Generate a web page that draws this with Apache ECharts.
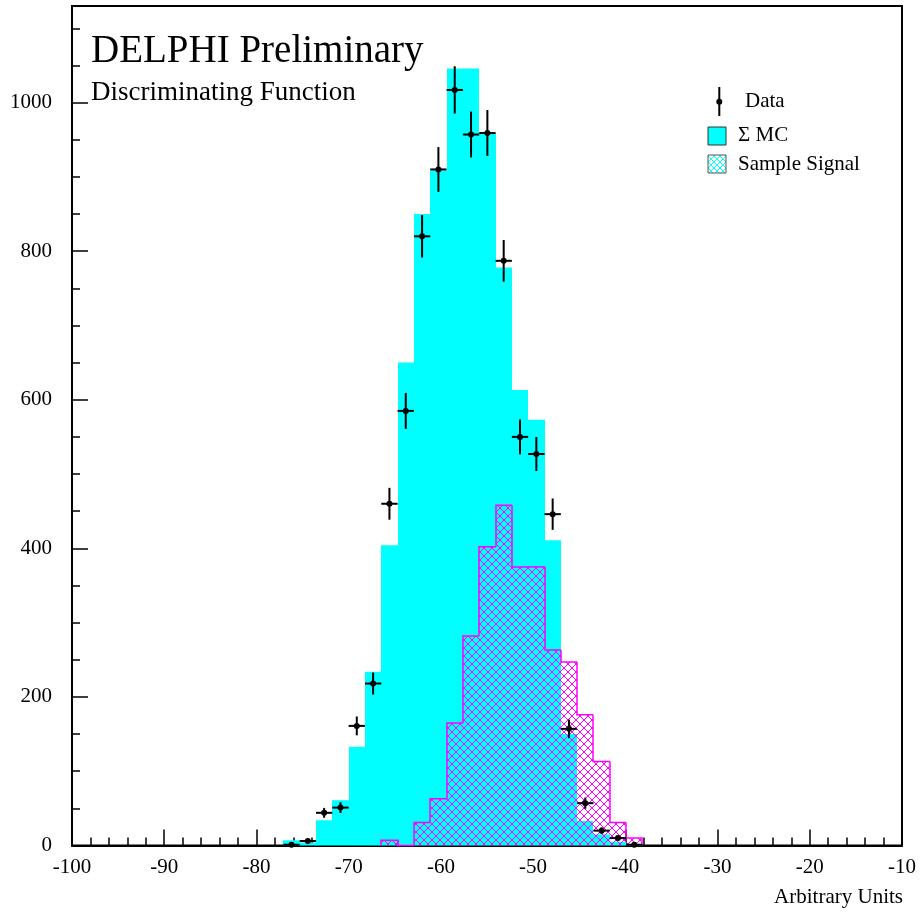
<!DOCTYPE html>
<html><head><meta charset="utf-8">
<script src="https://cdn.jsdelivr.net/npm/echarts@6/dist/echarts.min.js"></script>
<style>html,body{margin:0;padding:0;background:#fff}#c{width:922px;height:914px}</style>
</head><body><div id="c"></div>
<script>
// ---- data ----
const binCenters = [-76.2, -74.43, -72.66, -70.89, -69.12, -67.35, -65.58, -63.81, -62.04, -60.27, -58.5, -56.73, -54.96, -53.19, -51.42, -49.65, -47.88, -46.11, -44.34, -42.57, -40.8, -39.03];
const binWidth = 1.77;
const mcValues = [7, 4, 34, 61, 133, 234, 404, 650, 850, 909, 1046, 1046, 959, 778, 613, 573, 411, 150, 33, 15, 5, 2];
const signalValues = [0, 0, 0, 0, 0, 0, 7, 0, 31, 63, 165, 282, 402, 458, 375, 375, 263, 247, 176, 113, 31, 10];
const dataValues = [1, 6, 44, 51, 161, 218, 460, 585, 820, 910, 1017, 957, 959, 787, 550, 527, 446, 157, 57, 20, 10, 1];
const legendLabels = ['Data', '\u03A3 MC', 'Sample Signal'];
const titleText = 'DELPHI Preliminary';
const subtitleText = 'Discriminating Function';
const xAxisTitle = 'Arbitrary Units';

const FONT = "'Liberation Serif', 'Times New Roman', serif";
const CYAN = '#00ffff', MAGENTA = '#ff00ff';

function makeHatch(color, size) {
  const cv = document.createElement('canvas');
  cv.width = size; cv.height = size;
  const g = cv.getContext('2d');
  g.fillStyle = color;
  for (let i = 0; i < size; i++) {
    g.fillRect(i, i, 1, 1);
    g.fillRect(size - 1 - i, i, 1, 1);
  }
  return cv;
}
const hatchMag = makeHatch(MAGENTA, 8);
const hatchCyan = makeHatch(CYAN, 6);

function edges(api, c, v) {
  const p0 = api.coord([c - binWidth / 2, 0]);
  const p1 = api.coord([c + binWidth / 2, v]);
  return { x0: Math.round(p0[0]), x1: Math.round(p1[0]), y0: p0[1], y1: p1[1] };
}

const mcData = binCenters.map((c, i) => [c, mcValues[i]]);
const sigData = binCenters.map((c, i) => [c, signalValues[i], i > 0 ? signalValues[i - 1] : 0, i < signalValues.length - 1 ? signalValues[i + 1] : 0]);
const dataPts = binCenters.map((c, i) => [c, dataValues[i], Math.sqrt(dataValues[i])]);

const chart = echarts.init(document.getElementById('c'), null, { renderer: 'canvas' });
chart.setOption({
  animation: false,
  backgroundColor: '#fff',
  grid: { left: 72, right: 20, top: 6, bottom: 68.5, show: true, borderColor: '#000', borderWidth: 2, backgroundColor: 'transparent' },
  xAxis: {
    type: 'value', min: -100, max: -10, interval: 10,
    axisLine: { show: true, onZero: false, lineStyle: { color: '#000', width: 2 } },
    axisTick: { show: true, inside: true, length: 16, lineStyle: { color: '#000', width: 1.5 } },
    minorTick: { show: true, splitNumber: 5, length: 8, lineStyle: { color: '#000', width: 1.5 } },
    axisLabel: { margin: 11, fontFamily: FONT, fontSize: 21, color: '#000', formatter: v => String(v) },
    splitLine: { show: false }
  },
  yAxis: [
    {
      type: 'value', min: 0, max: 1130, interval: 200, position: 'left',
      axisLine: { show: true, lineStyle: { color: '#000', width: 2 } },
      axisTick: { show: true, inside: true, length: 16, lineStyle: { color: '#000', width: 1.5 } },
      axisLabel: { showMaxLabel: false, margin: 20, fontFamily: FONT, fontSize: 21, color: '#000', formatter: v => String(v) },
      splitLine: { show: false }
    },
    {
      type: 'value', min: 0, max: 1130, interval: 50, position: 'left', offset: 0,
      axisLine: { show: false },
      axisTick: { show: true, inside: true, length: 8, lineStyle: { color: '#000', width: 1.5 } },
      axisLabel: { show: false },
      splitLine: { show: false }
    }
  ],
  series: [
    {
      type: 'custom', name: 'MC', data: mcData, z: 1,
      renderItem: (params, api) => {
        const e = edges(api, api.value(0), api.value(1));
        return { type: 'rect', shape: { x: e.x0, y: e.y1, width: e.x1 - e.x0, height: e.y0 - e.y1 }, style: { fill: CYAN } };
      }
    },
    {
      type: 'custom', name: 'Signal', data: sigData, z: 2,
      renderItem: (params, api) => {
        const c = api.value(0), v = api.value(1), pv = api.value(2), nv = api.value(3);
        const e = edges(api, c, v);
        const yp = api.coord([c, pv])[1], yn = api.coord([c, nv])[1];
        const children = [];
        if (v > 0) {
          children.push({ type: 'rect', shape: { x: e.x0, y: e.y1, width: e.x1 - e.x0, height: e.y0 - e.y1 }, style: { fill: { image: hatchMag, repeat: 'repeat' } } });
        }
        if (v > 0 || pv > 0) {
          const pts = [[e.x0, yp], [e.x0, e.y1], [e.x1, e.y1]];
          if (nv === 0) pts.push([e.x1, yn]);
          children.push({ type: 'polyline', shape: { points: pts }, style: { stroke: MAGENTA, lineWidth: 1.5, fill: null } });
        }
        return { type: 'group', children };
      }
    },
    {
      type: 'custom', name: 'Data', data: dataPts, z: 3,
      renderItem: (params, api) => {
        const c = api.value(0), v = api.value(1), err = api.value(2);
        const pc = api.coord([c, v]);
        const pl = api.coord([c - binWidth / 2, v]);
        const pr = api.coord([c + binWidth / 2, v]);
        const pt = api.coord([c, v + err]);
        const pb = api.coord([c, Math.max(0, v - err)]);
        return {
          type: 'group', children: [
            { type: 'line', shape: { x1: pc[0], y1: pt[1], x2: pc[0], y2: pb[1] }, style: { stroke: '#000', lineWidth: 2 } },
            { type: 'line', shape: { x1: pl[0], y1: pc[1], x2: pr[0], y2: pc[1] }, style: { stroke: '#000', lineWidth: 2 } },
            { type: 'circle', shape: { cx: pc[0], cy: pc[1], r: 3 }, style: { fill: '#000' } }
          ]
        };
      }
    }
  ],
  graphic: [
    { type: 'text', left: 91, top: 32, style: { text: titleText, font: '39px ' + FONT, fill: '#000' } },
    { type: 'text', left: 91, top: 79, style: { text: subtitleText, font: '27px ' + FONT, fill: '#000' } },
    // legend
    { type: 'line', shape: { x1: 719.3, y1: 87, x2: 719.3, y2: 116 }, style: { stroke: '#000', lineWidth: 2 } },
    { type: 'circle', shape: { cx: 719.3, cy: 101.7, r: 3 }, style: { fill: '#000' } },
    { type: 'text', x: 745, y: 101, style: { text: legendLabels[0], font: '21px ' + FONT, fill: '#000', verticalAlign: 'middle' } },
    { type: 'rect', shape: { x: 708, y: 127, width: 18, height: 18 }, style: { fill: CYAN, stroke: '#333', lineWidth: 1 } },
    { type: 'text', x: 738, y: 135, style: { text: legendLabels[1], font: '21px ' + FONT, fill: '#000', verticalAlign: 'middle' } },
    { type: 'rect', shape: { x: 708, y: 155, width: 18, height: 18 }, style: { fill: { image: hatchCyan, repeat: 'repeat' }, stroke: '#555', lineWidth: 1 } },
    { type: 'text', x: 738, y: 164, style: { text: legendLabels[2], font: '21px ' + FONT, fill: '#000', verticalAlign: 'middle' } },
    { type: 'text', right: 19, top: 887, style: { text: xAxisTitle, font: '21px ' + FONT, fill: '#000' } }
  ]
});
</script></body></html>
